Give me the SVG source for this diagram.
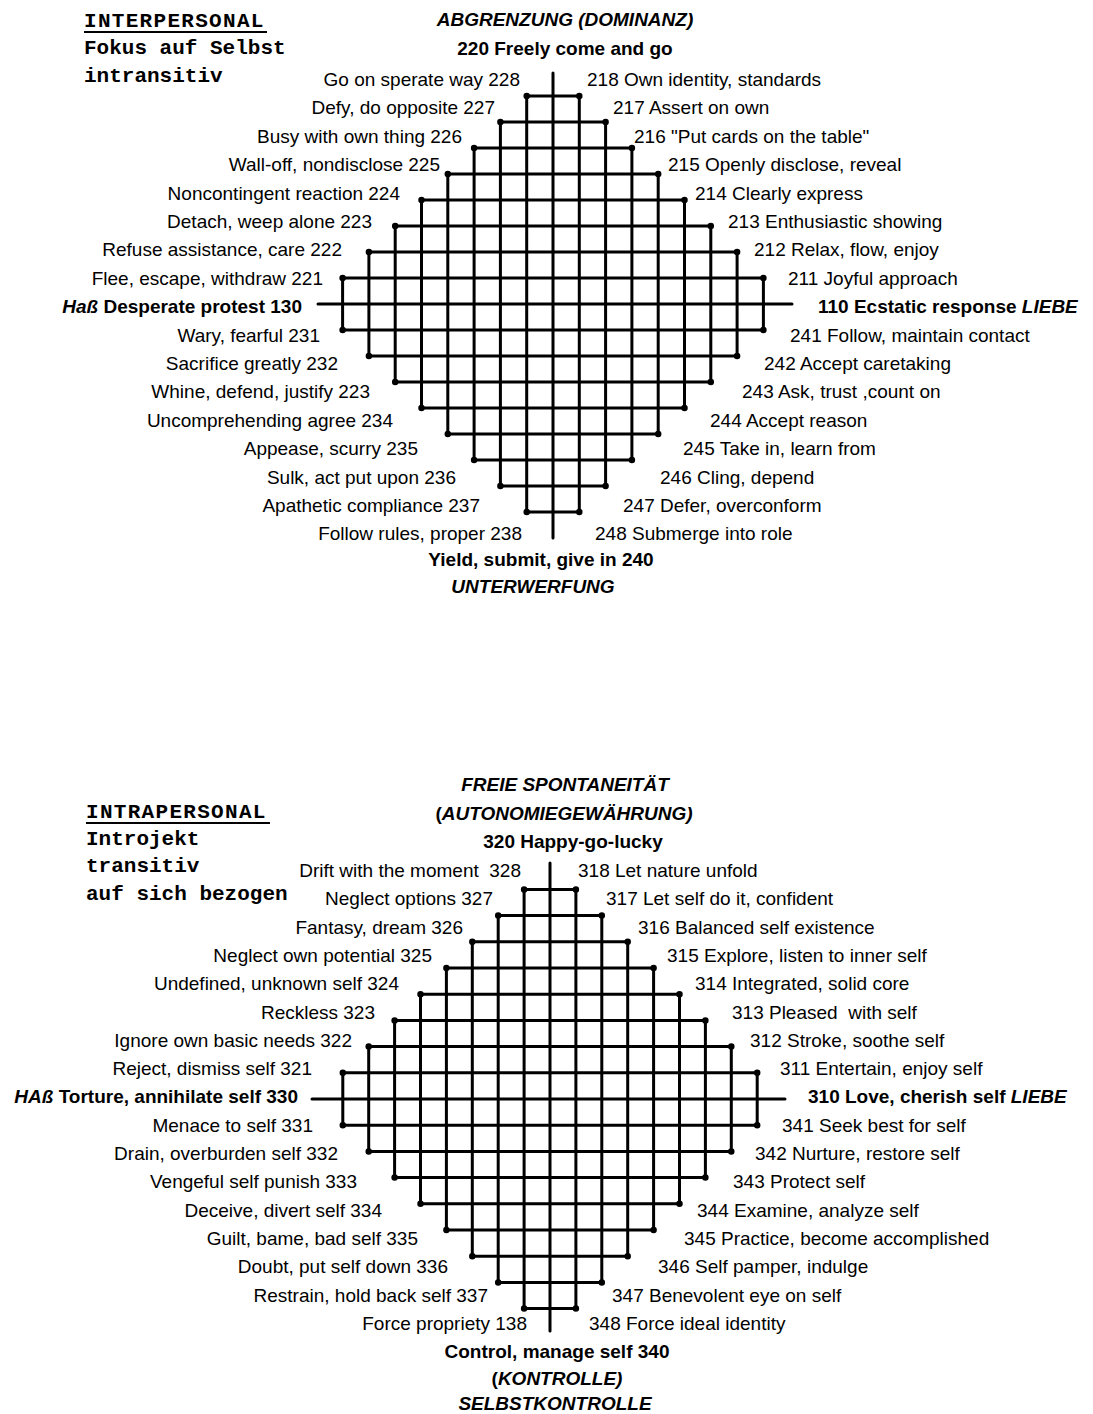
<svg xmlns="http://www.w3.org/2000/svg" width="1093" height="1414" viewBox="0 0 1093 1414">
<style>
.bg{fill:#fff}
.grid{fill:none;stroke:#000;stroke-width:3;stroke-linecap:round;stroke-linejoin:round}
.dots{fill:none;stroke:#000;stroke-width:6.5;stroke-linecap:round}
text{font-family:"Liberation Sans",Arial,sans-serif;font-size:19px;fill:#000}
.r{text-anchor:end}
.c{text-anchor:middle}
.b{font-weight:bold}
.bi{font-weight:bold;font-style:italic}
.mh{font-family:"Liberation Mono","Courier New",monospace;font-size:21px;font-weight:bold;letter-spacing:1.3px}
.m{font-family:"Liberation Mono","Courier New",monospace;font-size:21px;font-weight:bold}
.ul{stroke:#000;stroke-width:1.8}
</style>
<rect class="bg" x="0" y="0" width="1093" height="1414"/>

<g id="legend-top">
<text class="mh" x="84" y="27">INTERPERSONAL</text>
<line class="ul" x1="84" y1="32" x2="267" y2="32"/>
<text class="m" x="84" y="54">Fokus auf Selbst</text>
<text class="m" x="84" y="82">intransitiv</text>
</g>

<g id="grid-top">
<path class="grid" d="M318 304H792
M342.6 278H763.4 M368.9 252H737.1 M395.2 226H710.8 M421.5 200H684.5 M447.8 174H658.2 M474.1 148H631.9 M500.4 122H605.6 M526.7 96H579.3
M342.6 330H763.4 M368.9 356H737.1 M395.2 382H710.8 M421.5 408H684.5 M447.8 434H658.2 M474.1 460H631.9 M500.4 486H605.6 M526.7 512H579.3
M342.6 278V330 M763.4 278V330 M368.9 252V356 M737.1 252V356 M395.2 226V382 M710.8 226V382 M421.5 200V408 M684.5 200V408
M447.8 174V434 M658.2 174V434 M474.1 148V460 M631.9 148V460 M500.4 122V486 M605.6 122V486 M526.7 96V512 M579.3 96V512 M553 73V538"/>
<path class="dots" d="M342.6 278h0M763.4 278h0M368.9 252h0M737.1 252h0M395.2 226h0M710.8 226h0M421.5 200h0M684.5 200h0M447.8 174h0M658.2 174h0M474.1 148h0M631.9 148h0M500.4 122h0M605.6 122h0M526.7 96h0M579.3 96h0
M342.6 330h0M763.4 330h0M368.9 356h0M737.1 356h0M395.2 382h0M710.8 382h0M421.5 408h0M684.5 408h0M447.8 434h0M658.2 434h0M474.1 460h0M631.9 460h0M500.4 486h0M605.6 486h0M526.7 512h0M579.3 512h0"/>
</g>

<g id="labels-top">
<text class="bi c" x="565" y="26">ABGRENZUNG (DOMINANZ)</text>
<text class="b c" x="565" y="55">220 Freely come and go</text>
<text class="r" x="520" y="86">Go on sperate way 228</text>
<text class="r" x="495" y="114.4">Defy, do opposite 227</text>
<text class="r" x="462" y="142.8">Busy with own thing 226</text>
<text class="r" x="440" y="171.2">Wall-off, nondisclose 225</text>
<text class="r" x="400" y="199.6">Noncontingent reaction 224</text>
<text class="r" x="372" y="228">Detach, weep alone 223</text>
<text class="r" x="342" y="256.4">Refuse assistance, care 222</text>
<text class="r" x="323" y="284.8">Flee, escape, withdraw 221</text>
<text class="r b" x="302" y="313.2"><tspan class="bi">Haß</tspan> Desperate protest 130</text>
<text class="r" x="320" y="341.6">Wary, fearful 231</text>
<text class="r" x="338" y="370">Sacrifice greatly 232</text>
<text class="r" x="370" y="398.4">Whine, defend, justify 223</text>
<text class="r" x="393" y="426.8">Uncomprehending agree 234</text>
<text class="r" x="418" y="455.2">Appease, scurry 235</text>
<text class="r" x="456" y="483.6">Sulk, act put upon 236</text>
<text class="r" x="480" y="512">Apathetic compliance 237</text>
<text class="r" x="522" y="540.4">Follow rules, proper 238</text>
<text x="587" y="86">218 Own identity, standards</text>
<text x="613" y="114.4">217 Assert on own</text>
<text x="634" y="142.8">216 "Put cards on the table"</text>
<text x="668" y="171.2">215 Openly disclose, reveal</text>
<text x="695" y="199.6">214 Clearly express</text>
<text x="728" y="228">213 Enthusiastic showing</text>
<text x="754" y="256.4">212 Relax, flow, enjoy</text>
<text x="788" y="284.8">211 Joyful approach</text>
<text class="b" x="818" y="313.2">110 Ecstatic response <tspan class="bi">LIEBE</tspan></text>
<text x="790" y="341.6">241 Follow, maintain contact</text>
<text x="764" y="370">242 Accept caretaking</text>
<text x="742" y="398.4">243 Ask, trust ,count on</text>
<text x="710" y="426.8">244 Accept reason</text>
<text x="683" y="455.2">245 Take in, learn from</text>
<text x="660" y="483.6">246 Cling, depend</text>
<text x="623" y="512">247 Defer, overconform</text>
<text x="595" y="540.4">248 Submerge into role</text>
<text class="b c" x="541" y="566">Yield, submit, give in 240</text>
<text class="bi c" x="533" y="593">UNTERWERFUNG</text>
</g>

<g id="legend-bottom">
<text class="mh" x="86" y="818">INTRAPERSONAL</text>
<line class="ul" x1="86" y1="823" x2="270" y2="823"/>
<text class="m" x="86" y="845">Introjekt</text>
<text class="m" x="86" y="872">transitiv</text>
<text class="m" x="86" y="900">auf sich bezogen</text>
</g>

<g id="grid-bottom">
<path class="grid" d="M312 1099H785
M342.8 1072.8H757.2 M368.7 1046.6H731.3 M394.6 1020.4H705.4 M420.5 994.2H679.5 M446.4 968H653.6 M472.3 941.8H627.7 M498.2 915.6H601.8 M524.1 889.4H575.9
M342.8 1125.2H757.2 M368.7 1151.4H731.3 M394.6 1177.6H705.4 M420.5 1203.8H679.5 M446.4 1230H653.6 M472.3 1256.2H627.7 M498.2 1282.4H601.8 M524.1 1308.6H575.9
M342.8 1072.8V1125.2 M757.2 1072.8V1125.2 M368.7 1046.6V1151.4 M731.3 1046.6V1151.4 M394.6 1020.4V1177.6 M705.4 1020.4V1177.6
M420.5 994.2V1203.8 M679.5 994.2V1203.8 M446.4 968V1230 M653.6 968V1230 M472.3 941.8V1256.2 M627.7 941.8V1256.2
M498.2 915.6V1282.4 M601.8 915.6V1282.4 M524.1 889.4V1308.6 M575.9 889.4V1308.6 M550 863V1331"/>
<path class="dots" d="M342.8 1072.8h0M757.2 1072.8h0M368.7 1046.6h0M731.3 1046.6h0M394.6 1020.4h0M705.4 1020.4h0M420.5 994.2h0M679.5 994.2h0M446.4 968h0M653.6 968h0M472.3 941.8h0M627.7 941.8h0M498.2 915.6h0M601.8 915.6h0M524.1 889.4h0M575.9 889.4h0
M342.8 1125.2h0M757.2 1125.2h0M368.7 1151.4h0M731.3 1151.4h0M394.6 1177.6h0M705.4 1177.6h0M420.5 1203.8h0M679.5 1203.8h0M446.4 1230h0M653.6 1230h0M472.3 1256.2h0M627.7 1256.2h0M498.2 1282.4h0M601.8 1282.4h0M524.1 1308.6h0M575.9 1308.6h0"/>
</g>

<g id="labels-bottom">
<text class="bi c" x="565" y="791">FREIE SPONTANEITÄT</text>
<text class="bi c" x="564" y="820"><tspan font-style="normal">(</tspan>AUTONOMIEGEWÄHRUNG)</text>
<text class="b c" x="573" y="848">320 Happy-go-lucky</text>
<text class="r" x="521" y="877" xml:space="preserve">Drift with the moment  328</text>
<text class="r" x="493" y="905.3">Neglect options 327</text>
<text class="r" x="463" y="933.6">Fantasy, dream 326</text>
<text class="r" x="432" y="961.9">Neglect own potential 325</text>
<text class="r" x="399" y="990.2">Undefined, unknown self 324</text>
<text class="r" x="375" y="1018.5">Reckless 323</text>
<text class="r" x="352" y="1046.8">Ignore own basic needs 322</text>
<text class="r" x="312" y="1075.1">Reject, dismiss self 321</text>
<text class="r b" x="298" y="1103.4"><tspan class="bi">HAß</tspan> Torture, annihilate self 330</text>
<text class="r" x="313" y="1131.7">Menace to self 331</text>
<text class="r" x="338" y="1160">Drain, overburden self 332</text>
<text class="r" x="357" y="1188.3">Vengeful self punish 333</text>
<text class="r" x="382" y="1216.6">Deceive, divert self 334</text>
<text class="r" x="418" y="1244.9">Guilt, bame, bad self 335</text>
<text class="r" x="448" y="1273.2">Doubt, put self down 336</text>
<text class="r" x="488" y="1301.5">Restrain, hold back self 337</text>
<text class="r" x="527" y="1329.8">Force propriety 138</text>
<text x="578" y="877">318 Let nature unfold</text>
<text x="606" y="905.3">317 Let self do it, confident</text>
<text x="638" y="933.6">316 Balanced self existence</text>
<text x="667" y="961.9">315 Explore, listen to inner self</text>
<text x="695" y="990.2">314 Integrated, solid core</text>
<text x="732" y="1018.5" xml:space="preserve">313 Pleased  with self</text>
<text x="750" y="1046.8">312 Stroke, soothe self</text>
<text x="780" y="1075.1">311 Entertain, enjoy self</text>
<text class="b" x="808" y="1103.4">310 Love, cherish self <tspan class="bi">LIEBE</tspan></text>
<text x="782" y="1131.7">341 Seek best for self</text>
<text x="755" y="1160">342 Nurture, restore self</text>
<text x="733" y="1188.3">343 Protect self</text>
<text x="697" y="1216.6">344 Examine, analyze self</text>
<text x="684" y="1244.9">345 Practice, become accomplished</text>
<text x="658" y="1273.2">346 Self pamper, indulge</text>
<text x="612" y="1301.5">347 Benevolent eye on self</text>
<text x="589" y="1329.8">348 Force ideal identity</text>
<text class="b c" x="557" y="1358">Control, manage self 340</text>
<text class="bi c" x="557" y="1385"><tspan font-style="normal">(</tspan>KONTROLLE)</text>
<text class="bi c" x="555" y="1410">SELBSTKONTROLLE</text>
</g>
</svg>
